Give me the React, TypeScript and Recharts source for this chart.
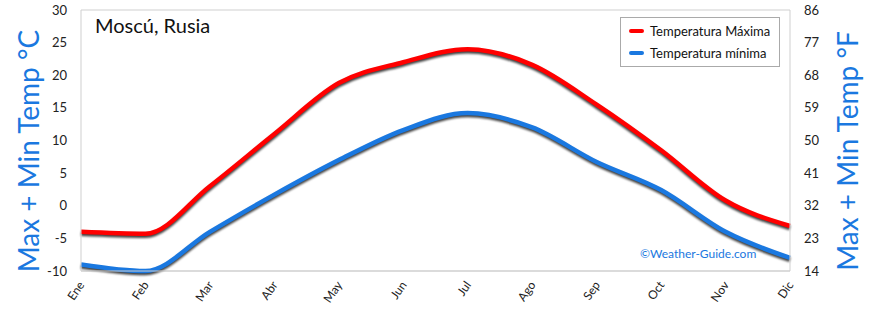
import React from 'react';
import { LineChart, Line, XAxis, YAxis, CartesianGrid, Legend } from 'recharts';

const months = ['Ene', 'Feb', 'Mar', 'Abr', 'May', 'Jun', 'Jul', 'Ago', 'Sep', 'Oct', 'Nov', 'Dic'];
const maxTemp = [-4, -4.3, 3, 11, 18.8, 22, 24, 21.6, 15.5, 8.5, 0.8, -3.1];
const minTemp = [-9, -10, -4, 1.7, 7, 11.6, 14.2, 12, 6.7, 2.4, -4, -8];
const celsiusTicks = [-10, -5, 0, 5, 10, 15, 20, 25, 30];
const fahrenheitTicks = [14, 23, 32, 41, 50, 59, 68, 77, 86];

const data = months.map((m, i) => ({ month: m, max: maxTemp[i], min: minTemp[i] }));

const FONT = '"Comic Sans MS", Lato, "Open Sans", sans-serif';
const BLUE = '#1a78e0';

const XTick = (props: any) => {
  const { x, y, payload } = props;
  return (
    <text x={x + 4} y={y + 6} transform={`rotate(-55 ${x + 4} ${y + 6})`} textAnchor="end" fontSize={12} fontFamily={FONT} fill="#222">
      {payload.value}
    </text>
  );
};

const LegendBox = (props: any) => (
  <div style={{ border: '1px solid #aaa', background: '#fff', padding: '2px 8px', width: 142, fontFamily: FONT, fontSize: 13 }}>
    {(props.payload || []).map((p: any) => (
      <div key={p.value} style={{ display: 'flex', alignItems: 'center', height: 22 }}>
        <span style={{ display: 'inline-block', width: 15, height: 4, background: p.color, marginRight: 6, borderRadius: 2 }} />
        <span style={{ color: '#111', whiteSpace: 'nowrap' }}>{p.value}</span>
      </div>
    ))}
  </div>
);

export default function App() {
  return (
    <div style={{ position: 'absolute', left: 0, top: 0, width: 870, height: 312, background: '#fff' }}>
      <style>{`
        .shadowed .recharts-line-curve { filter: drop-shadow(0px 2px 1px rgba(0,0,0,0.75)); }
      `}</style>
      <LineChart width={870} height={312} data={data} margin={{ top: 10, right: 0, bottom: 0, left: 0 }}>
        <CartesianGrid vertical={false} stroke="#cfcfcf" />
        <XAxis dataKey="month" height={41} tickLine={false} stroke="#cfcfcf" tick={<XTick />} interval={0} />
        <YAxis
          yAxisId="c"
          width={81}
          domain={[-10, 30]}
          ticks={celsiusTicks}
          tickLine={false}
          stroke="#cfcfcf"
          tick={{ fill: '#222', fontSize: 13, fontFamily: FONT }}
          tickMargin={8}
          interval={0}
        />
        <YAxis
          yAxisId="f"
          orientation="right"
          width={80}
          type="number"
          domain={[14, 86]}
          allowDataOverflow
          ticks={fahrenheitTicks}
          tickLine={false}
          stroke="#cfcfcf"
          tick={{ fill: '#222', fontSize: 13, fontFamily: FONT }}
          tickMargin={8}
          interval={0}
        />
        <Legend
          layout="horizontal"
          verticalAlign="middle"
          align="center"
          content={<LegendBox />}
          wrapperStyle={{ top: 17, left: 620, right: 'auto', width: 160 }}
        />
        <Line yAxisId="c" className="shadowed" type="monotone" dataKey="max" name="Temperatura Máxima" stroke="#ff0000" strokeWidth={4.5} dot={false} isAnimationActive={false} />
        <Line yAxisId="c" className="shadowed" type="monotone" dataKey="min" name="Temperatura mínima" stroke={BLUE} strokeWidth={4.5} dot={false} isAnimationActive={false} />
        <text x={95} y={33} fontSize={20} fontFamily={FONT} fill="#111">Moscú, Rusia</text>
        <text x={640} y={258} fontSize={12} fontFamily={FONT} fill={BLUE}>©Weather-Guide.com</text>
        <text x={39} y={151} transform="rotate(-90 39 151)" textAnchor="middle" fontSize={28} fontFamily={FONT} fill={BLUE}>Max + Min Temp °C</text>
        <text x={858} y={151} transform="rotate(-90 858 151)" textAnchor="middle" fontSize={28} fontFamily={FONT} fill={BLUE}>Max + Min Temp °F</text>
      </LineChart>
    </div>
  );
}
